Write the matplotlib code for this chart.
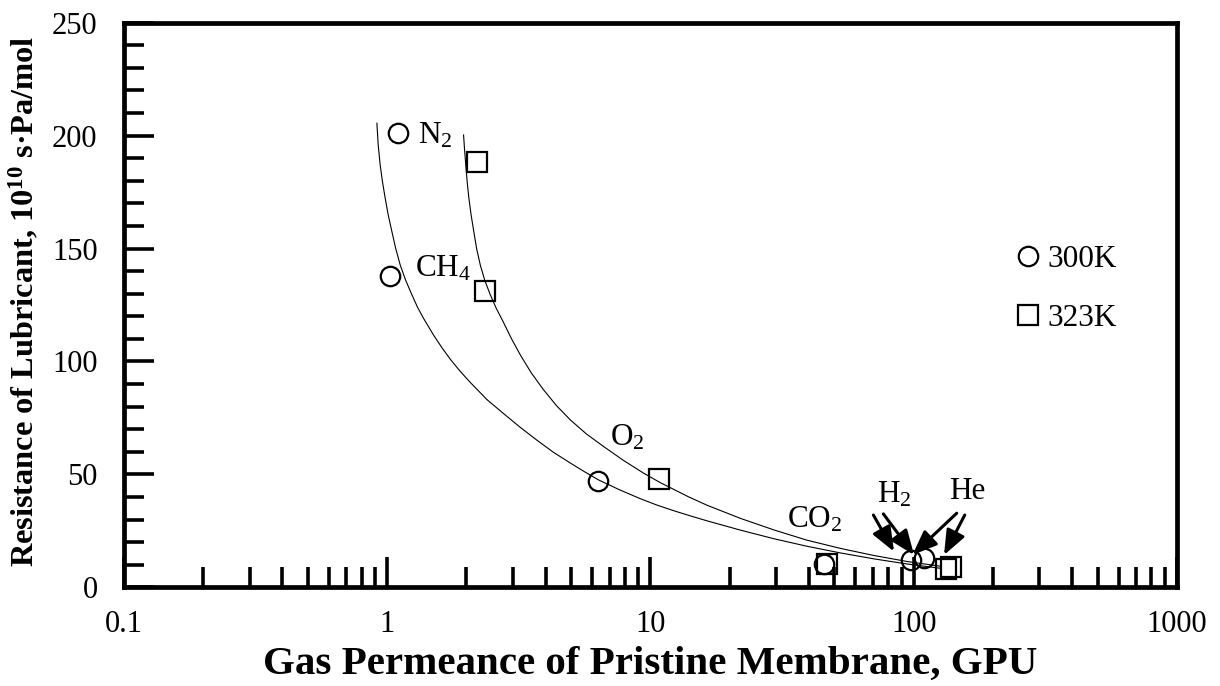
import matplotlib
matplotlib.use("Agg")
import matplotlib.pyplot as plt
from matplotlib.ticker import FixedLocator, FixedFormatter, LogLocator, MultipleLocator, NullFormatter

plt.rcParams['font.family'] = ['Liberation Serif', 'DejaVu Serif']
plt.rcParams['mathtext.fontset'] = 'custom'
plt.rcParams['mathtext.rm'] = 'Liberation Serif'
plt.rcParams['mathtext.it'] = 'Liberation Serif:italic'
plt.rcParams['mathtext.bf'] = 'Liberation Serif:bold'
plt.rcParams['mathtext.default'] = 'regular'

# Measured data: gas permeance of the pristine membrane (GPU) and
# lubricant resistance (10^10 s·Pa/mol) at two temperatures
gases = ['N$_2$', 'CH$_4$', 'O$_2$', 'CO$_2$', 'H$_2$', 'He']
perm_300 = [1.098, 1.027, 6.325, 45.6, 98.0, 109.4]
res_300 = [201.1, 137.9, 47.2, 10.3, 12.1, 12.8]
perm_323 = [2.193, 2.358, 10.75, 46.95, 132.3, 139.1]
res_323 = [188.2, 131.4, 48.0, 10.3, 8.1, 9.1]

# Fitted trend curves (permeance, resistance)
fit_x_300 = [0.9139, 0.9242, 0.9405, 0.9597, 0.9826, 1.0088, 1.0420, 1.0773, 1.1206,
             1.1757, 1.2414, 1.3037, 1.3740, 1.4997, 1.6118, 1.7362, 1.8950, 2.0687,
             2.3933, 2.7686, 3.2039, 3.7088, 4.2779, 4.9643, 5.6105, 6.3600, 7.6228,
             9.1622, 10.585, 12.265, 14.198, 16.431, 21.989, 29.437, 39.20, 52.78,
             70.47, 94.62, 126.65]
fit_y_300 = [205.5, 195.9, 187.0, 179.5, 172.3, 164.9, 157.5, 150.0, 142.7,
             135.9, 129.5, 124.0, 119.1, 111.7, 106.2, 101.0, 95.6, 90.7,
             83.1, 76.9, 70.8, 65.1, 59.8, 55.0, 51.2, 47.5, 43.2,
             39.2, 36.4, 33.9, 31.6, 29.4, 25.3, 21.5, 18.2, 15.2,
             12.6, 10.3, 8.4]
fit_x_323 = [1.9503, 1.9675, 1.9884, 2.0128, 2.0432, 2.0831, 2.1330, 2.1857, 2.2575,
             2.3481, 2.4641, 2.5969, 2.7494, 2.9615, 3.2039, 3.5277, 3.9292, 4.3912,
             4.9643, 5.7108, 6.6436, 7.8941, 9.4295, 10.914, 13.984, 16.431, 21.989,
             29.437, 39.20, 52.78, 70.47, 94.62, 126.65]
fit_y_323 = [200.3, 193.7, 187.0, 179.5, 172.3, 164.9, 157.5, 150.0, 142.7,
             135.9, 129.5, 123.5, 117.9, 110.2, 102.9, 94.9, 87.4, 80.5,
             74.1, 67.9, 62.3, 56.2, 50.5, 46.3, 40.0, 36.3, 30.5,
             25.4, 20.9, 17.2, 14.1, 11.4, 9.3]

x_ticks = [0.1, 1, 10, 100, 1000]
x_tick_labels = ['0.1', '1', '10', '100', '1000']
y_ticks = [0, 50, 100, 150, 200, 250]
y_tick_labels = ['0', '50', '100', '150', '200', '250']

TICK_FS = 22
TEXT_FS = 22.5

fig = plt.figure(figsize=(12.2, 6.86), dpi=100)
ax = fig.add_axes([0.1016, 0.1439, 0.8631, 0.8230])

ax.set_xscale('log')
ax.set_xlim(0.1, 1000)
ax.set_ylim(0, 250)

# trend curves
ax.plot(fit_x_300, fit_y_300, color='black', lw=0.8, zorder=2)
ax.plot(fit_x_323, fit_y_323, color='black', lw=0.8, zorder=2)

# data points
ax.plot(perm_300, res_300, linestyle='none', marker='o', ms=14, mfc='none',
        mec='black', mew=1.6, label='300K', zorder=3)
ax.plot(perm_323, res_323, linestyle='none', marker='s', ms=14, mfc='none',
        mec='black', mew=1.6, label='323K', zorder=3)

# gas labels
label_pos = [(1.31, 200.0), (1.27, 141.0), (7.05, 66.0), (33.1, 29.8), (72.8, 40.9), (135.8, 42.3)]
for name, (lx, ly) in zip(gases, label_pos):
    ax.text(lx, ly, name, fontsize=TEXT_FS, ha='left', va='center')

# arrows from the H2 and He labels down to their points
arrow_style = dict(arrowstyle='-|>,head_length=0.5,head_width=0.2', color='black',
                   lw=2.2, mutation_scale=30, shrinkA=0, shrinkB=0)
for tail, tip in [((70.3, 32.0), (84.2, 15.8)),
                  ((76.7, 32.5), (100.3, 14.3)),
                  ((145.7, 32.8), (98.9, 14.3)),
                  ((156.3, 32.0), (130.4, 14.3))]:
    ax.annotate('', xy=tip, xytext=tail, arrowprops=arrow_style)

# axes styling
for side in ['left', 'right', 'top', 'bottom']:
    ax.spines[side].set_linewidth(3.4)
    ax.spines[side].set_color('black')

ax.xaxis.set_major_locator(FixedLocator(x_ticks))
ax.xaxis.set_major_formatter(FixedFormatter(x_tick_labels))
ax.xaxis.set_minor_locator(LogLocator(base=10, subs=range(2, 10), numticks=20))
ax.xaxis.set_minor_formatter(NullFormatter())
ax.yaxis.set_major_locator(FixedLocator(y_ticks))
ax.yaxis.set_major_formatter(FixedFormatter(y_tick_labels))
ax.yaxis.set_minor_locator(MultipleLocator(10))

ax.tick_params(which='both', direction='in', top=False, right=False, color='black')
ax.tick_params(which='major', length=21.6, width=2.6, labelsize=TICK_FS)
ax.tick_params(which='minor', length=14.4, width=2.6)
ax.tick_params(axis='x', which='major', pad=16)
ax.tick_params(axis='y', which='major', pad=19)

ax.set_xlabel('Gas Permeance of Pristine Membrane, GPU', fontsize=29.5,
              fontweight='bold', labelpad=5)
ax.set_ylabel('Resistance of Lubricant, 10$^{\\mathbf{10}}$ s·Pa/mol', fontsize=23.3,
              fontweight='bold', labelpad=6)
ax.yaxis.set_label_coords(-0.0798, 0.507)

leg = ax.legend(loc='upper left', bbox_to_anchor=(0.847, 0.607), frameon=False,
                fontsize=TEXT_FS, handlelength=0.8, handletextpad=0.2, borderpad=0,
                borderaxespad=0, labelspacing=0.97, markerscale=1.0)

fig.savefig('out.png', dpi=100)
